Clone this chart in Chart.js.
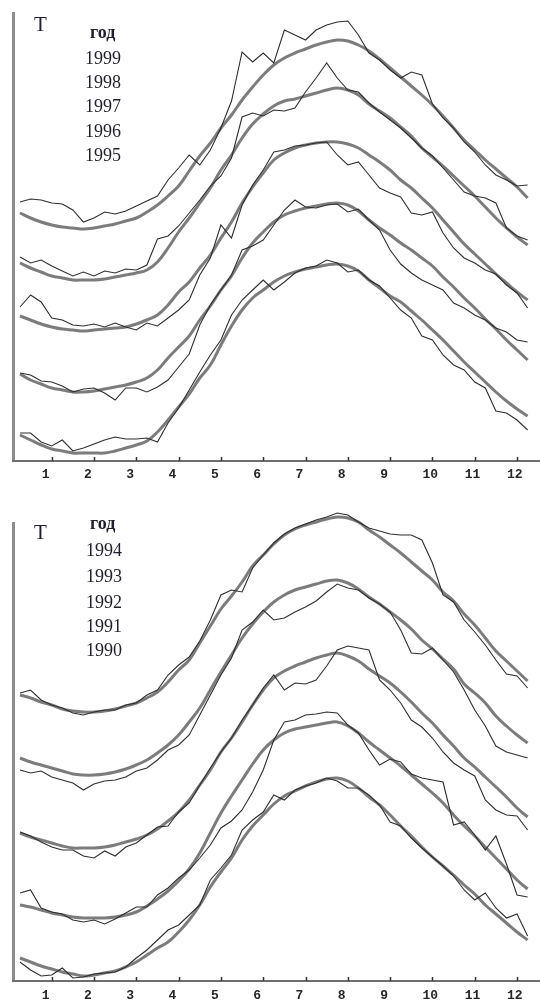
<!DOCTYPE html>
<html>
<head>
<meta charset="utf-8">
<script src="https://cdn.jsdelivr.net/npm/chart.js@4.4.0/dist/chart.umd.min.js"></script>
<style>
    html, body { margin: 0; padding: 0; background: #fff; overflow: hidden; }
    body { width: 540px; height: 1000px; }
    .panel { position: relative; width: 540px; }
    .lbl { position: absolute; font-family: "Liberation Serif", "DejaVu Serif", serif; color: #1f1f2e; line-height: 1; white-space: nowrap; }
    .big { font-size: 21px; }
    .head { font-size: 18px; font-weight: bold; }
    .yr { font-size: 18px; }
</style>
</head>
<body>

<div class="panel" style="height:490px">
    <canvas id="top" width="540" height="490"></canvas>
    <div class="lbl big" style="left:34px; top:14px">T</div>
    <div class="lbl head" style="left:90px; top:23px">год</div>
    <div class="lbl yr" style="left:85px; top:49px">1999</div>
    <div class="lbl yr" style="left:85px; top:73px">1998</div>
    <div class="lbl yr" style="left:85px; top:97px">1997</div>
    <div class="lbl yr" style="left:85px; top:122px">1996</div>
    <div class="lbl yr" style="left:85px; top:146px">1995</div>
</div>

<div class="panel" style="height:510px">
    <canvas id="bottom" width="540" height="510"></canvas>
    <div class="lbl big" style="left:34px; top:32px">T</div>
    <div class="lbl head" style="left:90px; top:24px">год</div>
    <div class="lbl yr" style="left:86px; top:51px">1994</div>
    <div class="lbl yr" style="left:86px; top:77px">1993</div>
    <div class="lbl yr" style="left:86px; top:103px">1992</div>
    <div class="lbl yr" style="left:86px; top:127px">1991</div>
    <div class="lbl yr" style="left:86px; top:151px">1990</div>
</div>

<script>
// month position of every reading (same grid for all curves)
const months = [0.25, 0.5, 0.75, 1, 1.25, 1.5, 1.75, 2, 2.25, 2.5, 2.75, 3, 3.25, 3.5, 3.75, 4, 4.25, 4.5, 4.75, 5,
    5.25, 5.5, 5.75, 6, 6.25, 6.5, 6.75, 7, 7.25, 7.5, 7.75, 8, 8.25, 8.5, 8.75, 9, 9.25, 9.5, 9.75, 10,
    10.25, 10.5, 10.75, 11, 11.25, 11.5, 11.75, 12, 12.25];
const monthTicks = [1, 2, 3, 4, 5, 6, 7, 8, 9, 10, 11, 12];

// T, arbitrary units, each year shifted up so the curves stack
// fit = smooth model curve (thick gray), obs = measured series (thin dark)
const fit1999 = [248,243,239,236,234,233,232,233,235,237,240,243,249,256,265,275,290,305,318,333,346,361,374,386,396,403,408,412,416,419,421,420,416,410,402,393,384,375,366,356,345,333,321,311,301,292,283,274,263];
const obs1999 = [259,262,261,258,257,251,239,243,249,247,250,255,260,265,281,293,306,296,311,333,360,409,399,408,398,431,426,421,431,436,439,440,426,408,401,391,383,389,386,357,343,333,319,309,296,286,281,275,276];
const fit1998 = [198,193,189,185,183,181,181,181,182,184,186,188,191,199,213,229,243,258,273,291,306,323,337,347,355,360,362,365,368,371,373,371,366,357,350,343,334,325,313,304,295,285,275,265,254,243,233,224,216];
const obs1998 = [204,198,201,195,190,185,189,185,190,188,192,191,196,222,225,235,248,261,275,285,303,344,348,345,351,350,353,369,383,398,383,371,369,358,349,341,333,323,313,305,293,281,269,265,263,258,233,225,221];
const fit1997 = [145,141,137,134,132,131,130,131,132,133,134,137,141,146,156,169,179,193,206,223,239,258,274,288,301,308,313,316,318,319,319,317,313,306,299,291,281,273,263,253,241,229,217,207,197,187,178,169,161];
const obs1997 = [154,166,159,143,141,136,135,137,134,138,134,131,138,135,143,151,161,186,203,236,223,256,276,291,309,311,315,316,318,319,306,296,299,286,273,268,264,248,246,249,228,213,203,198,191,187,176,168,153];
const fit1996 = [87,81,77,73,71,69,69,70,72,74,76,79,83,91,103,114,125,141,155,171,185,203,218,229,239,246,250,253,255,257,258,256,250,241,233,226,218,211,203,195,184,174,163,153,142,132,121,111,101];
const obs1996 = [88,86,80,79,75,69,72,73,68,61,73,73,69,74,81,94,107,136,156,171,186,211,215,221,236,251,261,254,253,256,257,249,252,241,231,211,197,188,181,176,171,158,153,146,141,133,129,121,119];
const fit1995 = [26,21,16,12,10,8,8,8,8,10,13,16,20,29,41,54,67,83,96,116,135,151,163,171,179,185,189,192,194,196,197,195,190,181,173,165,159,150,141,131,121,110,99,89,79,69,60,52,45];
const obs1995 = [28,28,19,15,21,10,13,17,21,24,22,22,23,19,38,53,71,89,106,121,146,161,171,181,171,179,188,193,195,201,198,189,191,181,175,163,151,143,125,121,106,96,91,79,73,50,48,41,31];

const fit1994 = [286,283,279,276,272,270,269,269,270,272,275,278,283,289,299,311,321,338,355,372,385,399,415,426,437,446,452,456,459,462,464,463,459,451,444,436,428,419,410,401,389,380,367,356,343,330,320,310,300];
const obs1994 = [288,291,281,276,273,268,266,269,271,271,276,278,286,291,306,316,324,340,361,386,391,389,413,426,438,447,453,457,461,464,468,466,459,453,450,447,446,446,441,418,386,379,361,349,336,321,307,305,293];
const fit1993 = [223,219,216,213,210,207,206,206,207,209,212,216,221,228,236,246,259,273,291,309,326,343,357,369,379,386,391,394,397,400,401,398,392,384,377,369,361,352,341,332,322,312,297,288,278,265,255,246,238];
const obs1993 = [211,208,210,204,201,198,191,197,200,201,204,210,213,221,231,236,246,266,286,306,323,351,359,371,361,363,369,374,380,389,397,393,391,383,377,369,351,328,327,333,321,309,291,271,255,235,229,226,223];
const fit1992 = [148,144,141,138,135,133,133,133,134,136,139,142,146,152,160,169,181,196,211,229,243,259,276,291,303,310,315,319,323,326,328,325,320,312,305,298,289,279,268,258,246,235,223,214,204,194,184,173,164];
const obs1992 = [149,145,139,134,131,131,125,123,130,125,134,138,146,154,155,169,178,196,213,229,243,261,276,293,306,291,298,297,301,315,331,335,333,331,301,291,278,261,254,243,229,218,211,205,181,171,166,165,151];
const fit1991 = [76,74,71,68,66,64,63,63,63,64,66,69,75,82,90,100,112,128,148,168,185,201,217,231,241,248,252,254,256,258,259,255,248,239,231,223,215,206,197,188,178,166,155,145,134,123,112,101,92];
const obs1991 = [88,91,73,69,67,61,59,61,57,62,68,74,74,86,93,103,111,123,136,153,160,171,189,211,241,259,261,266,267,269,268,256,248,231,216,222,219,207,203,201,199,156,159,146,131,145,117,86,84];
const fit1990 = [23,19,15,12,9,7,5,6,8,10,14,19,26,33,39,49,61,76,94,109,123,141,155,166,177,185,190,195,199,202,203,200,193,184,176,166,155,145,134,124,115,106,96,87,76,67,58,49,41];
const obs1990 = [19,11,5,6,13,3,4,7,8,9,14,23,31,41,51,56,66,76,101,113,126,151,161,169,186,181,191,195,198,203,200,193,193,186,176,159,155,143,133,124,115,105,91,81,88,73,63,67,45];

/////////////////////////////////////////////////////////////////////////////////////

function points(values) {
    return months.map((m, i) => ({ x: m, y: values[i] }));
}

function fitSet(label, values) {
    return { label: label, data: points(values), borderColor: '#7c7c7c', borderWidth: 3,
             pointRadius: 0, tension: 0.4, clip: false, order: 2 };
}

function obsSet(label, values) {
    return { label: label, data: points(values), borderColor: '#2e2e2e', borderWidth: 1.1,
             pointRadius: 0, tension: 0, clip: false, order: 1 };
}

// axis lines + small inward tick marks, like the original plot
const axisLines = {
    id: 'axisLines',
    afterDraw(chart) {
        const { ctx, chartArea: a, scales: { x } } = chart;
        ctx.save();
        ctx.strokeStyle = '#8c8c8c';
        ctx.lineWidth = 3;
        ctx.beginPath();
        ctx.moveTo(a.left - 1.5, a.top);
        ctx.lineTo(a.left - 1.5, a.bottom);
        ctx.stroke();

        ctx.strokeStyle = '#6e6e6e';
        ctx.lineWidth = 2;
        ctx.beginPath();
        ctx.moveTo(a.left - 3, a.bottom);
        ctx.lineTo(a.right, a.bottom);
        ctx.stroke();

        ctx.strokeStyle = '#333';
        ctx.lineWidth = 1.5;
        monthTicks.forEach(function (m) {
            const px = Math.round(x.getPixelForValue(m)) + 0.5;
            ctx.beginPath();
            ctx.moveTo(px, a.bottom - 4);
            ctx.lineTo(px, a.bottom);
            ctx.stroke();
        });
        ctx.restore();
    }
};

function makeChart(id, datasets, padTop, axisHeight, yMax, labelPad) {
    return new Chart(document.getElementById(id), {
        type: 'line',
        data: { datasets: datasets },
        options: {
            responsive: false,
            animation: false,
            devicePixelRatio: 1,
            layout: { padding: { top: padTop, left: 15, right: 0, bottom: 0 } },
            plugins: { legend: { display: false }, tooltip: { enabled: false } },
            scales: {
                x: {
                    type: 'linear',
                    min: 0.132,
                    max: 12.543,
                    grid: { display: false, drawTicks: false },
                    border: { display: false },
                    afterBuildTicks: function (s) { s.ticks = monthTicks.map(v => ({ value: v })); },
                    afterFit: function (s) { s.height = axisHeight; },
                    ticks: {
                        padding: labelPad,
                        align: 'start',
                        labelOffset: -10,
                        maxRotation: 0,
                        autoSkip: false,
                        color: '#262626',
                        font: { family: 'Liberation Mono', weight: 'bold', size: 13 }
                    }
                },
                y: { display: false, min: 0, max: yMax }
            }
        },
        plugins: [axisLines]
    });
}

document.addEventListener('DOMContentLoaded', function () {
    makeChart('top', [
        fitSet('1999', fit1999), obsSet('1999', obs1999),
        fitSet('1998', fit1998), obsSet('1998', obs1998),
        fitSet('1997', fit1997), obsSet('1997', obs1997),
        fitSet('1996', fit1996), obsSet('1996', obs1996),
        fitSet('1995', fit1995), obsSet('1995', obs1995)
    ], 12, 29, 449, 6);

    makeChart('bottom', [
        fitSet('1994', fit1994), obsSet('1994', obs1994),
        fitSet('1993', fit1993), obsSet('1993', obs1993),
        fitSet('1992', fit1992), obsSet('1992', obs1992),
        fitSet('1991', fit1991), obsSet('1991', obs1991),
        fitSet('1990', fit1990), obsSet('1990', obs1990)
    ], 32, 19, 459, 7);
});
</script>
</body>
</html>
